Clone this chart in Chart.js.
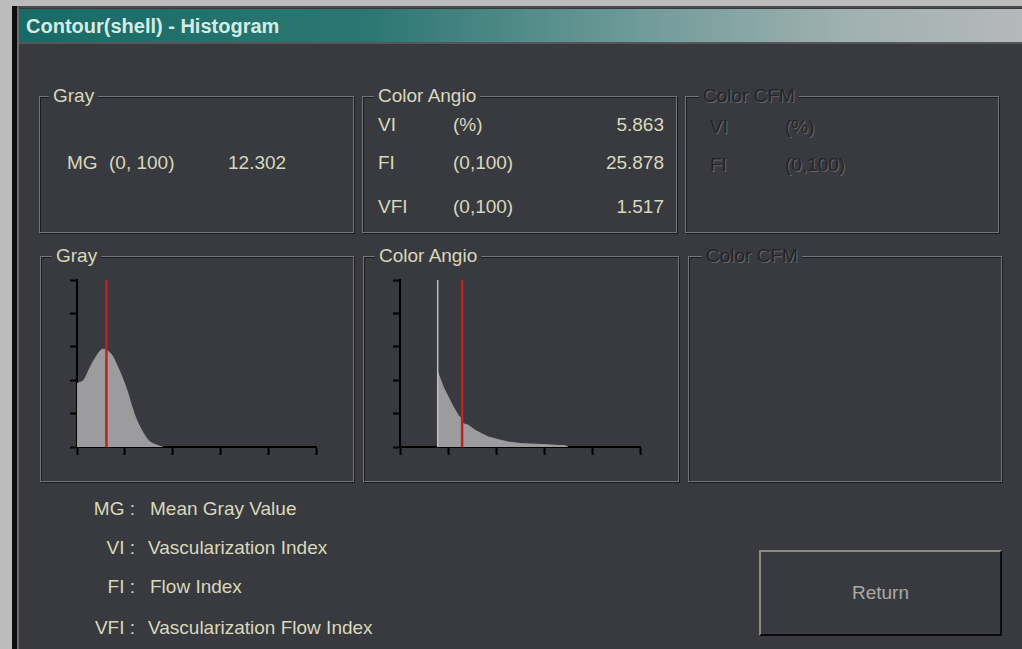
<!DOCTYPE html>
<html>
<head>
<meta charset="utf-8">
<script src="https://cdn.jsdelivr.net/npm/chart.js@4.4.0/dist/chart.umd.min.js"></script>
<style>
  html, body { margin: 0; padding: 0; }
  body {
    width: 1022px; height: 649px; position: relative; overflow: hidden;
    background: #bcbcbc;
    font-family: "Liberation Sans", Arial, sans-serif;
    font-size: 19px; color: #d8d8bc;
  }
  .abs { position: absolute; line-height: 22px; white-space: nowrap; }
  #edge { position: absolute; left: 12px; top: 6px; width: 5px; height: 643px; background: #0e0e10; }
  #win {
    position: absolute; left: 17px; top: 6px; width: 1005px; height: 643px;
    background: #393a3f; border-left: 2px solid #6c6c6c; border-top: 2px solid #4a4a4e;
    box-sizing: border-box;
  }
  #title {
    position: absolute; left: 19px; top: 9px; width: 1003px; height: 33px;
    background: linear-gradient(to right, #196a67 0%, #2c7773 35%, #6f9b99 62%, #9fb0b0 82%, #b6b8b9 100%);
    border-bottom: 2px solid #55565a;
  }
  #title span {
    position: absolute; left: 7px; top: 5px; font-weight: bold; font-size: 20px;
    color: #d4ece2; line-height: 24px;
  }
  .box {
    position: absolute; border: 1px solid #74757a;
    box-shadow: inset 1px 1px 0 #1c1c20, 1px 1px 0 #1c1c20;
  }
  .lbl {
    position: absolute; top: -12px; padding: 0 4px; background: #393a3f;
    line-height: 22px; white-space: nowrap;
  }
  .off { color: #232328; text-shadow: 1px 1px 0 #66676b; }
  .r { text-align: right; }
  canvas { position: absolute; }
  #ret {
    position: absolute; left: 759px; top: 550px; width: 243px; height: 86px;
    box-sizing: border-box; border-top: 2px solid #8c8c78; border-left: 2px solid #8c8c78;
    border-right: 2px solid #0c0c0e; border-bottom: 2px solid #0c0c0e;
    color: #a9a9a9; text-align: center; line-height: 82px;
  }
</style>
</head>
<body>
<div id="edge"></div>
<div id="win"></div>
<div id="title"><span>Contour(shell) - Histogram</span></div>

<!-- top group boxes -->
<div class="box" style="left:39px;top:96px;width:313px;height:135px;"><span class="lbl" style="left:9px;">Gray</span></div>
<div class="box" style="left:362px;top:96px;width:313px;height:135px;"><span class="lbl" style="left:11px;">Color Angio</span></div>
<div class="box" style="left:685px;top:96px;width:312px;height:135px;"><span class="lbl off" style="left:13px;">Color CFM</span></div>

<span class="abs" style="left:67px;top:152px;">MG</span>
<span class="abs" style="left:109px;top:152px;">(0, 100)</span>
<span class="abs" style="left:228px;top:152px;">12.302</span>

<span class="abs" style="left:378px;top:114px;">VI</span>
<span class="abs" style="left:453px;top:114px;">(%)</span>
<span class="abs" style="left:378px;top:152px;">FI</span>
<span class="abs" style="left:453px;top:152px;">(0,100)</span>
<span class="abs" style="left:378px;top:196px;">VFI</span>
<span class="abs" style="left:453px;top:196px;">(0,100)</span>
<span class="abs r" id="viVal" style="right:358px;top:114px;"></span>
<span class="abs r" id="fiVal" style="right:358px;top:152px;"></span>
<span class="abs r" id="vfiVal" style="right:358px;top:196px;"></span>

<span class="abs off" style="left:710px;top:116px;">VI</span>
<span class="abs off" style="left:785px;top:116px;">(%)</span>
<span class="abs off" style="left:710px;top:154px;">FI</span>
<span class="abs off" style="left:785px;top:154px;">(0,100)</span>

<!-- bottom group boxes -->
<div class="box" style="left:40px;top:256px;width:312px;height:224px;"><span class="lbl" style="left:11px;">Gray</span></div>
<div class="box" style="left:363px;top:256px;width:314px;height:224px;"><span class="lbl" style="left:11px;">Color Angio</span></div>
<div class="box" style="left:688px;top:256px;width:312px;height:224px;"><span class="lbl off" style="left:13px;">Color CFM</span></div>

<canvas id="grayChart" width="259" height="180" style="left:61px;top:277px;"></canvas>
<canvas id="angioChart" width="260" height="180" style="left:384px;top:277px;"></canvas>

<!-- legend -->
<span class="abs r" style="right:887px;top:498px;">MG :</span>
<span class="abs" style="left:150px;top:498px;">Mean Gray Value</span>
<span class="abs r" style="right:887px;top:537px;">VI :</span>
<span class="abs" style="left:148px;top:537px;">Vascularization Index</span>
<span class="abs r" style="right:887px;top:576px;">FI :</span>
<span class="abs" style="left:150px;top:576px;">Flow Index</span>
<span class="abs r" style="right:887px;top:617px;">VFI :</span>
<span class="abs" style="left:148px;top:617px;">Vascularization Flow Index</span>

<div id="ret">Return</div>

<script>
// index values shown in the top panels
const mgValue = 12.302;
const viValue = 5.863;
const fiValue = 25.878;
const vfiValue = 1.517;

// axis ticks (both axes run 0..100)
const axisMin = 0;
const axisMax = 100;
const tickStep = 20;

// gray-level histogram (% of full scale)
const grayBins = [0, 2.8, 5.6, 8.4, 10.4, 12.5, 14.6, 16.7, 18.8, 20.9, 23, 25, 27.9, 30.6, 34.8, 36];
const grayCounts = [38, 40, 48, 55, 58.4, 58, 55, 49, 42, 34, 24, 16, 8, 3, 0.4, 0];

// color angio histogram
const angioBins = [15.7, 16.7, 18, 20.1, 22.2, 24.3, 25.7, 26.2, 28.5, 31.3, 34, 36.8, 41, 45, 50.7, 57.6, 65.3, 68.8, 70];
const angioCounts = [45, 41, 36, 30, 24, 19, 17, 14, 13, 10, 8, 6, 4.4, 3, 2, 1.6, 1, 0.8, 0];
const angioSpikeBin = 15.7;
const angioSpikeCount = 100;

document.getElementById("viVal").textContent = viValue.toFixed(3);
document.getElementById("fiVal").textContent = fiValue.toFixed(3);
document.getElementById("vfiVal").textContent = vfiValue.toFixed(3);

const fillGray = "#9c9c9e";
const markRed = "#c3201d";

function toPoints(xs, ys) {
  return xs.map((x, i) => ({ x: x, y: ys[i] }));
}

function axis(len, isX) {
  return {
    type: "linear",
    min: axisMin,
    max: axisMax,
    ticks: { display: false, stepSize: tickStep },
    grid: {
      drawOnChartArea: false,
      drawTicks: true,
      tickLength: len,
      tickColor: "#000",
      tickWidth: 2
    },
    border: { display: true, color: "#000", width: 2 },
    afterFit: s => {
      if (isX) s.height = 10; else s.width = 16;
    }
  };
}

function histChart(id, datasets) {
  const ctx = document.getElementById(id).getContext("2d");
  return new Chart(ctx, {
    type: "scatter",
    data: { datasets: datasets },
    options: {
      responsive: false,
      animation: false,
      layout: { padding: { top: 3, right: 4, left: 0, bottom: 0 } },
      plugins: { legend: { display: false }, tooltip: { enabled: false } },
      scales: { x: axis(8, true), y: axis(7, false) }
    }
  });
}

histChart("grayChart", [
  {
    data: [{ x: mgValue, y: axisMin }, { x: mgValue, y: axisMax }],
    showLine: true, borderColor: markRed, borderWidth: 2.5, pointRadius: 0
  },
  {
    data: toPoints(grayBins, grayCounts),
    showLine: true, fill: "origin", tension: 0.3,
    borderColor: fillGray, borderWidth: 1, backgroundColor: fillGray, pointRadius: 0
  }
]);

histChart("angioChart", [
  {
    data: [{ x: fiValue, y: axisMin }, { x: fiValue, y: axisMax }],
    showLine: true, borderColor: markRed, borderWidth: 2.5, pointRadius: 0
  },
  {
    data: [{ x: angioSpikeBin, y: axisMin }, { x: angioSpikeBin, y: angioSpikeCount }],
    showLine: true, borderColor: "#bdbdbf", borderWidth: 1.5, pointRadius: 0
  },
  {
    data: toPoints(angioBins, angioCounts),
    showLine: true, fill: "origin",
    borderColor: fillGray, borderWidth: 1, backgroundColor: fillGray, pointRadius: 0
  }
]);
</script>
</body>
</html>
